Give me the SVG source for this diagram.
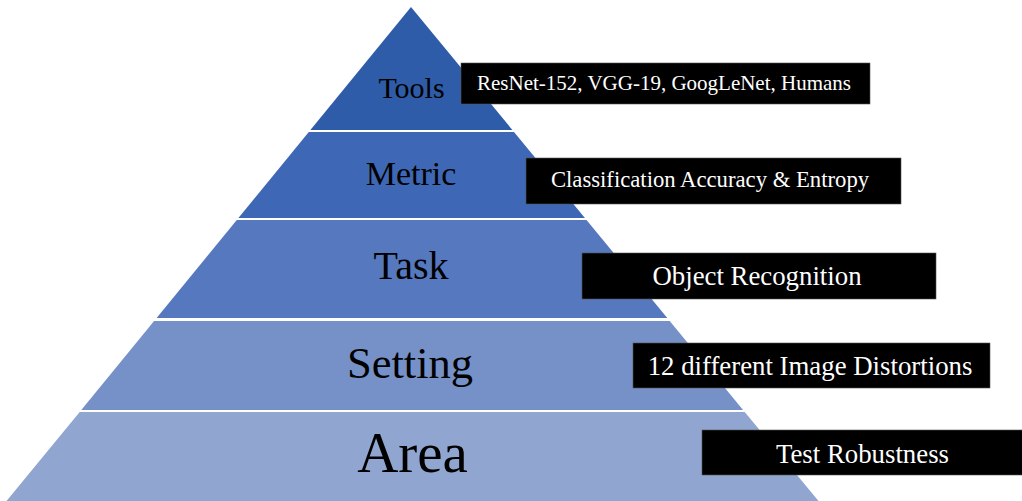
<svg xmlns="http://www.w3.org/2000/svg" width="1022" height="501" viewBox="0 0 1022 501">
  <style>
    .lbl { font-family: "Liberation Serif", "Times New Roman", serif; fill: #000; text-anchor: middle; }
    .box { fill: #000; stroke: #555; stroke-width: 0.6; }
    .btxt { font-family: "Liberation Serif", "Times New Roman", serif; fill: #fff; text-anchor: middle; }
  </style>
  <rect width="1022" height="501" fill="#fff"/>
  <g id="tools">
    <polygon points="411,7 512.4,130 310.4,130" fill="#2E5CA8"/>
    <text class="lbl" x="411.5" y="98" font-size="30">Tools</text>
  </g>
  <g id="metric">
    <polygon points="308.8,132 514,132 584.9,218 238.4,218" fill="#3E68B5"/>
    <text class="lbl" x="411" y="185" font-size="34">Metric</text>
  </g>
  <g id="task">
    <polygon points="236.8,220 586.5,220 667.3,318 156.6,318" fill="#5678BF"/>
    <text class="lbl" x="411" y="279" font-size="40">Task</text>
  </g>
  <g id="setting">
    <polygon points="154.1,321 669.7,321 743.1,410 81.3,410" fill="#7591C8"/>
    <text class="lbl" x="410" y="378" font-size="44.5">Setting</text>
  </g>
  <g id="area">
    <polygon points="79.7,412 744.7,412 818.5,501 6.5,501" fill="#90A5D0"/>
    <text class="lbl" x="412.5" y="472" font-size="57">Area</text>
  </g>
  <g id="tools-desc">
    <rect class="box" x="461" y="63" width="409" height="41"/>
    <text class="btxt" x="664" y="90" font-size="21">ResNet-152, VGG-19, GoogLeNet, Humans</text>
  </g>
  <g id="metric-desc">
    <rect class="box" x="526" y="158" width="375" height="46"/>
    <text class="btxt" x="710" y="187" font-size="22.7">Classification Accuracy &amp; Entropy</text>
  </g>
  <g id="task-desc">
    <rect class="box" x="582" y="253" width="354" height="46"/>
    <text class="btxt" x="757" y="285" font-size="26.8">Object Recognition</text>
  </g>
  <g id="setting-desc">
    <rect class="box" x="633" y="343" width="357" height="45"/>
    <text class="btxt" x="810" y="375" font-size="26.8">12 different Image Distortions</text>
  </g>
  <g id="area-desc">
    <rect class="box" x="702" y="430" width="322" height="45"/>
    <text class="btxt" x="862.5" y="463" font-size="26.8">Test Robustness</text>
  </g>
  <g id="connectors"></g>
</svg>
